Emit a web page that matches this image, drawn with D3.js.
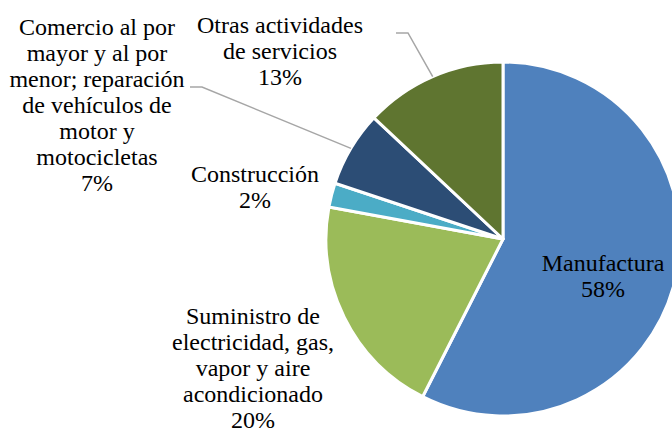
<!DOCTYPE html>
<html>
<head>
<meta charset="utf-8">
<script src="https://cdn.jsdelivr.net/npm/d3@7"></script>
<style>
  body { margin:0; background:#fff; }
  .leader { fill:none; stroke:#A6A6A6; stroke-width:1.5; }
</style>
</head>
<body>
<div id="chart"></div>
<script>
// sector shares (%), clockwise from 12 o'clock
const sectors = ["Manufactura", "Suministro de electricidad, gas, vapor y aire acondicionado", "Construcción",
                 "Comercio al por mayor y al por menor; reparación de vehículos de motor y motocicletas", "Otras actividades de servicios"];
const shares  = [57.5, 20.4, 2.2, 6.9, 13.0];
const labelLines = [
  ["Manufactura"],
  ["Suministro de", "electricidad, gas,", "vapor y aire", "acondicionado"],
  ["Construcción"],
  ["Comercio al por", "mayor y al por", "menor; reparación", "de vehículos de", "motor y", "motocicletas"],
  ["Otras actividades", "de servicios"]
];
const colors = ["#4F81BD", "#9BBB59", "#4BACC6", "#2C4D75", "#5F7530"];

// layout (label offsets from pie centre, leader elbows)
const labelOffset = [[100,32],[-250,85],[-248,-57],[-406,-204],[-223,-206]];
const leaders = { 3:{elbow:[-301,-152], end:[-313,-152]}, 4:{elbow:[-95,-206], end:[-107,-206]} };

const W=672, H=430, cx=503, cy=239, R=177, lineH=26;

const svg = d3.select("#chart").append("svg").attr("width",W).attr("height",H);
const g = svg.append("g").attr("transform",`translate(${cx},${cy})`);

const pie = d3.pie().sort(null).value(d=>d.v);
const arcs = pie(shares.map((v,i)=>({v,i})));
const arc = d3.arc().innerRadius(0).outerRadius(R);

g.selectAll("path.slice").data(arcs).enter().append("path")
  .attr("class","slice").attr("d",arc)
  .attr("fill",d=>colors[d.data.i]).attr("stroke","#fff").attr("stroke-width",3).attr("stroke-linejoin","round");

// leader lines
arcs.forEach(a => {
  const ld = leaders[a.data.i]; if(!ld) return;
  const m = (a.startAngle+a.endAngle)/2;
  const p0 = [R*Math.sin(m), -R*Math.cos(m)];
  g.append("path").attr("class","leader").attr("d", d3.line()([p0, ld.elbow, ld.end]));
});

// labels
arcs.forEach(a => {
  const i = a.data.i, off = labelOffset[i];
  const lines = labelLines[i].concat([Math.round(shares[i]) + "%"]);
  const t = g.append("text").attr("text-anchor","middle")
    .style("font-family",'"Liberation Serif"').style("font-size","24px").attr("fill","#000")
    .attr("x",off[0]).attr("y",off[1]);
  lines.forEach((s,k) => t.append("tspan").attr("x",off[0]).attr("dy",k?lineH:0).text(s));
});
</script>
</body>
</html>
